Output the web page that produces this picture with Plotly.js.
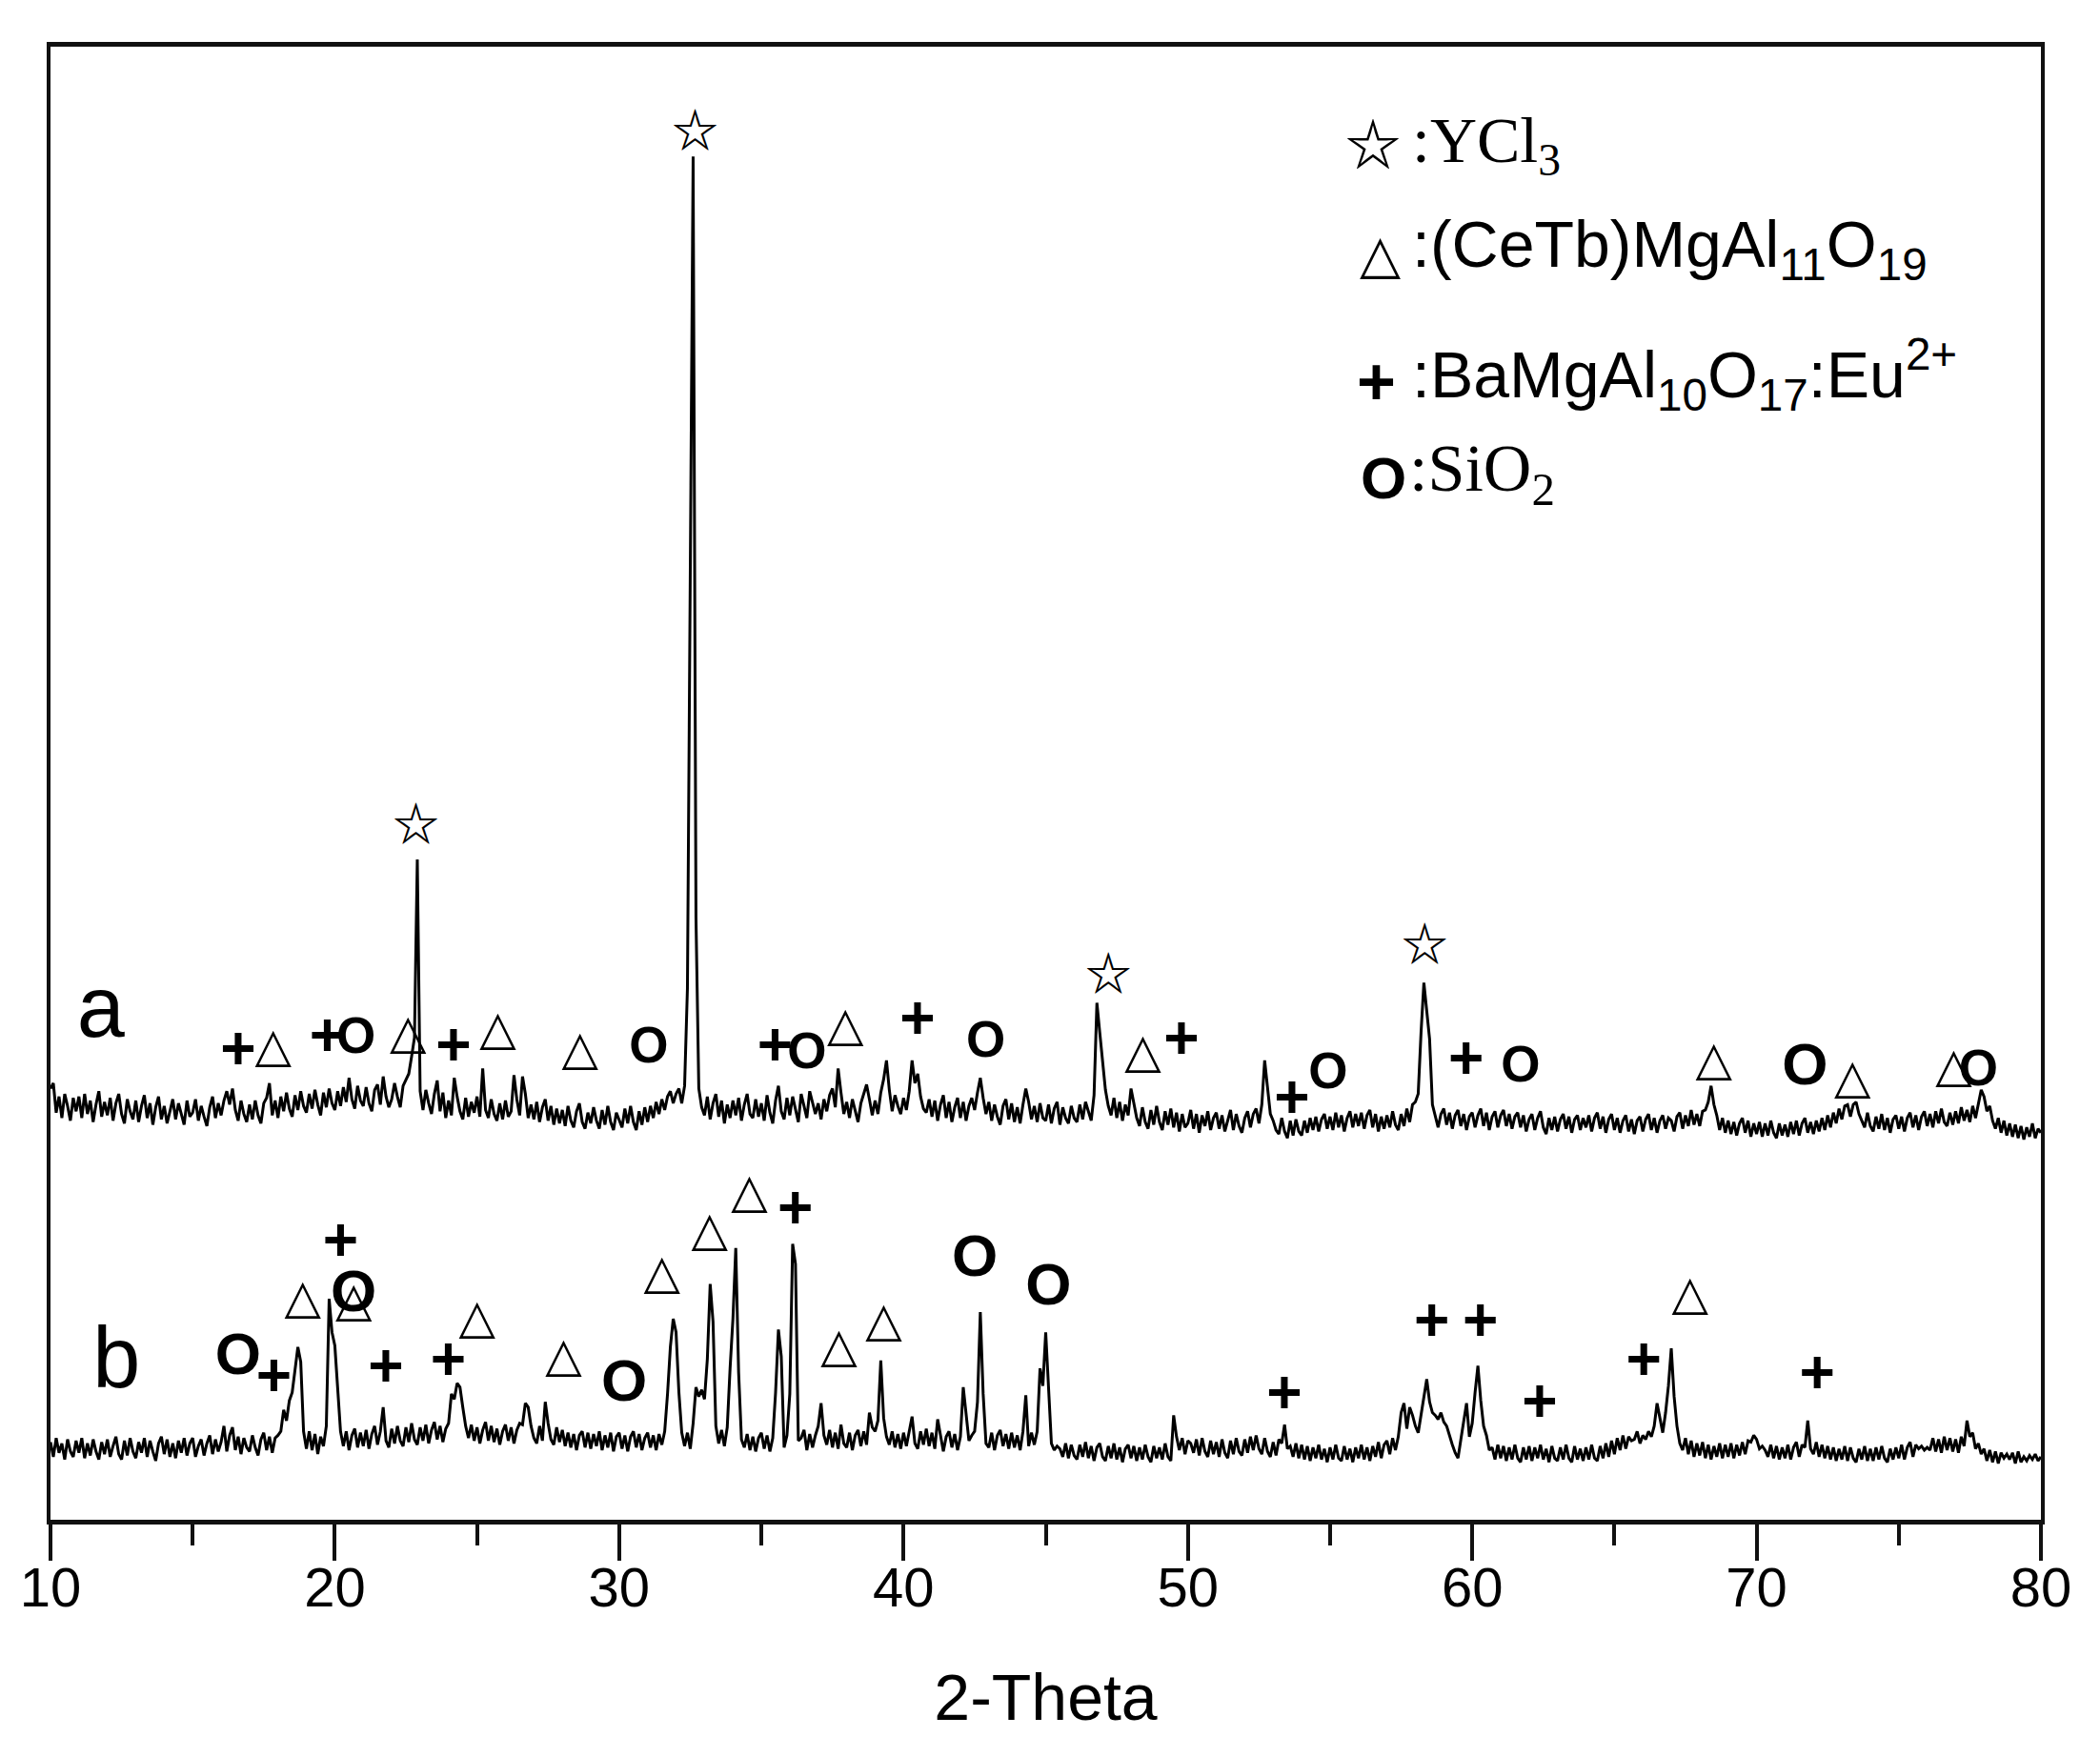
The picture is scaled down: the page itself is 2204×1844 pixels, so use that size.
<!DOCTYPE html>
<html>
<head>
<meta charset="utf-8">
<script src="https://cdn.plot.ly/plotly-3.0.1.min.js"></script>
<style>html,body{margin:0;padding:0;background:#fff;}#chart{width:2204px;height:1844px;}</style>
</head>
<body>
<div id="chart"></div>
<script>
// 2-Theta grid of the two patterns: start and step (degrees)
const thetaStart = 10;
const thetaStep = 0.1;

// Pattern a intensities (a.u.), one row per degree, 10.0 ... 80.0
const intensityA = [
322,326,304,316,300,318,309,298,315,305,
316,300,318,303,313,297,310,320,301,312,
302,315,298,311,318,303,296,314,305,299,
313,297,309,317,300,311,295,308,316,299,
309,296,305,314,299,311,303,295,313,301,
304,314,298,309,301,294,308,316,300,311,
302,313,320,310,322,306,298,313,303,297,
310,299,313,302,296,311,315,326,302,313,
300,316,305,319,307,301,317,306,320,309,
304,318,307,321,310,302,319,308,322,311,
306,320,309,323,312,330,314,307,324,313,
309,323,311,305,321,325,310,331,316,308,
314,326,316,308,324,328,333,346,360,493,
320,306,321,311,303,318,328,305,319,300,
313,302,330,316,305,299,315,301,312,304,
316,301,337,306,300,314,303,298,311,299,
313,301,305,332,314,302,331,318,300,310,
299,312,297,308,314,298,309,295,307,296,
306,294,309,298,293,305,311,297,292,304,
296,308,298,292,306,295,309,297,291,304,
299,293,307,296,309,297,291,305,295,308,
297,309,300,312,303,314,306,316,320,311,
318,322,311,324,397,700,1018,450,322,308,
302,316,299,311,318,301,313,296,310,300,
313,302,315,298,310,318,303,300,314,301,
311,298,317,304,296,313,324,305,299,315,
302,316,306,297,318,309,300,320,312,303,
311,299,314,305,317,322,308,337,319,303,
312,300,314,305,297,311,319,325,314,302,
313,303,319,329,343,321,305,317,309,303,
315,306,320,343,326,333,316,307,304,314,
301,313,298,310,317,300,312,297,308,315,
300,312,298,309,315,306,319,330,315,303,
312,298,310,301,295,309,314,299,311,297,
308,296,310,322,312,299,309,297,311,300,
298,310,296,307,312,295,308,300,296,309,
300,297,310,299,312,304,298,317,386,364,
340,321,309,302,315,300,312,298,310,302,
322,312,300,294,308,297,292,306,295,309,
297,291,305,295,307,293,304,290,303,293,
296,306,292,303,289,302,294,305,291,300,
304,292,302,290,299,306,291,303,294,289,
300,305,293,303,307,296,310,343,323,303,
298,291,288,300,290,285,298,287,299,290,
287,298,289,300,291,301,290,299,303,292,
301,291,304,293,302,290,300,305,293,303,
294,304,292,302,306,293,303,290,301,292,
302,293,305,295,291,303,294,307,297,310,
312,318,364,401,380,359,310,301,293,303,
307,295,304,292,302,306,294,303,291,301,
304,293,302,307,294,304,291,301,305,293,
302,306,294,303,292,301,304,293,302,290,
299,303,291,300,305,293,288,300,291,301,
290,299,303,292,301,289,299,302,291,300,
293,302,290,300,304,292,301,289,299,303,
291,300,289,298,302,290,299,288,298,301,
290,299,303,291,300,289,298,302,292,300,
298,290,301,304,292,302,294,306,295,303,
294,305,306,312,324,310,302,291,300,289,
298,288,297,287,296,300,289,298,286,296,
288,297,286,296,287,298,289,285,296,287,
295,286,297,288,298,287,296,300,289,297,
288,298,290,300,291,302,293,304,296,307,
299,309,310,301,310,312,303,298,293,304,
294,290,301,292,303,291,300,289,299,302,
292,301,290,300,304,293,302,291,301,305,
294,303,293,305,296,307,297,294,304,295,
305,296,308,298,306,297,309,300,311,321,
316,305,309,298,292,300,289,298,287,296,
286,295,285,294,284,293,286,296,285,292,
289
];

// Pattern b intensities (a.u.), one row per degree, 10.0 ... 80.0
const intensityB = [
58,47,61,50,57,45,60,51,47,59,
50,61,46,57,48,60,51,45,58,49,
60,47,55,62,49,45,59,48,61,51,
46,58,50,61,47,59,51,44,57,62,
49,60,47,57,46,59,50,61,48,57,
61,47,55,60,48,57,63,49,60,51,
58,70,51,63,69,52,62,49,61,54,
51,63,54,48,60,65,52,62,50,61,
63,66,82,74,89,95,112,129,118,66,
53,66,52,64,49,62,55,70,165,140,
130,94,66,55,66,52,63,68,54,65,
55,67,53,64,70,56,66,84,59,54,
68,57,70,59,55,69,58,72,60,56,
69,59,71,57,67,73,60,70,58,68,
72,94,90,102,99,84,70,61,71,59,
69,57,67,73,59,70,58,68,56,66,
71,59,69,57,67,72,71,87,84,70,
61,57,70,59,88,72,60,56,69,58,
67,55,65,54,64,52,63,66,54,65,
53,64,55,66,52,63,54,65,51,62,
65,53,63,51,62,66,54,64,52,61,
65,54,63,52,64,56,66,94,129,150,
140,95,65,55,65,53,72,99,92,97,
90,120,176,148,70,57,67,55,69,113,
150,203,110,60,54,64,52,62,51,61,
65,53,63,51,61,95,142,122,54,63,
94,206,191,59,61,67,52,64,54,63,
70,87,63,56,67,54,65,53,71,57,
54,65,52,63,67,55,66,56,80,69,
66,74,119,76,62,56,66,54,64,53,
65,55,67,77,57,53,66,56,68,55,
65,53,75,63,51,62,66,54,64,52,
62,99,80,59,63,66,88,155,94,57,
54,65,52,63,67,55,64,53,65,54,
63,52,66,93,55,65,56,66,113,100,
140,99,57,52,55,53,47,57,46,56,
48,45,56,47,58,46,55,44,54,57,
47,44,55,46,57,45,54,43,53,56,
46,55,44,54,45,56,47,43,55,46,
54,45,57,47,44,78,62,52,61,49,
59,57,50,60,48,61,51,47,59,49,
58,47,60,50,46,59,49,61,51,48,
60,50,62,52,63,53,49,61,51,47,
58,48,60,57,71,53,55,47,57,46,
56,45,55,44,54,46,56,45,53,43,
54,45,56,46,44,55,45,53,43,54,
46,56,45,54,44,55,47,58,46,56,
59,49,61,52,62,80,87,68,84,78,
70,65,78,90,105,88,80,78,75,80,
73,70,62,56,50,46,60,75,87,62,
72,95,115,89,70,63,52,54,45,56,
46,55,44,54,45,56,46,43,54,45,
55,44,54,46,56,45,53,43,55,46,
44,54,45,56,46,43,55,45,53,44,
54,45,56,46,44,55,46,57,47,59,
49,61,52,63,53,62,59,60,66,57,
63,60,66,62,70,87,76,65,80,100,
128,92,70,57,52,61,49,59,47,57,
48,58,46,56,45,55,47,57,46,56,
47,57,46,56,48,58,49,59,58,63,
60,53,55,52,47,56,46,55,45,54,
46,56,45,54,58,47,56,54,74,53,
49,58,47,56,46,55,45,54,44,53,
45,55,44,54,46,43,53,45,55,44,
53,44,54,45,55,46,43,53,45,54,
46,56,45,54,58,47,56,53,55,52,
54,52,61,51,60,50,62,52,61,51,
60,50,62,55,74,62,65,53,57,49,
53,44,52,43,51,42,50,46,49,45,
50,42,51,43,47,44,48,45,49,44,
47
];

// Phase markers (position in 2-Theta, height in a.u.)
const starTheta = [22.85, 32.67, 47.2, 58.33];
const starInt   = [516, 1034, 404, 426];

const triTheta = [17.83, 22.57, 25.73, 28.62, 37.95, 48.42, 68.5, 73.37, 76.93,
                  18.87, 20.66, 25.0, 28.04, 31.5, 33.18, 34.58, 37.73, 39.3, 67.66];
const triInt   = [351, 361, 364, 349, 367, 347, 341, 328, 336,
                  163, 161, 148, 120, 182, 214, 242, 127, 146, 166];

const plusTheta = [16.6, 19.73, 24.17, 35.48, 40.49, 49.77, 53.66, 59.78,
                   17.86, 20.2, 21.79, 23.99, 36.19, 53.39, 58.58, 60.29, 62.37, 66.03, 72.13];
const plusInt   = [348, 358, 351, 351, 371, 356, 312, 341,
                   104, 205, 111, 116, 229, 91, 145, 145, 85, 116, 106];

const smallOTheta = [20.74, 31.04, 36.6, 42.89, 54.93, 61.7, 77.8];
const smallOInt   = [358, 351, 347, 355, 332, 337, 334];

const bigOTheta = [71.7, 16.6, 20.66, 30.18, 42.51, 45.1];
const bigOInt   = [336, 120, 167, 100, 193, 172];

const sampleNames = ['a', 'b'];
const sampleTheta = [11.77, 12.32];
const sampleInt   = [377, 115];

const xTicks = [10, 20, 30, 40, 50, 60, 70, 80];

const SANS = 'Liberation Sans, Arial, sans-serif';
const SERIF = 'Liberation Serif, Times New Roman, serif';
const SYM = 'DejaVu Sans, sans-serif';
const STAR = 'Noto Sans CJK SC, DejaVu Sans, sans-serif';

function textTrace(xs, ys, str, family, size, weight) {
  return {
    type: 'scatter', mode: 'text', x: xs, y: ys,
    text: xs.map(() => str), textposition: 'middle center',
    textfont: {family: family, size: size, color: '#000', weight: weight || 'normal'},
    hoverinfo: 'skip', showlegend: false, cliponaxis: false
  };
}

const traces = [
  {type: 'scatter', mode: 'lines', x0: thetaStart, dx: thetaStep, y: intensityA,
   line: {color: '#000', width: 3}, showlegend: false, name: 'a'},
  {type: 'scatter', mode: 'lines', x0: thetaStart, dx: thetaStep, y: intensityB,
   line: {color: '#000', width: 3}, showlegend: false, name: 'b'},
  textTrace(starTheta, starInt, '\u2606', STAR, 48, 'bold'),
  textTrace(triTheta, triInt, '\u25B3', SYM, 50),
  textTrace(plusTheta, plusInt, '+', SANS, 64, 'bold'),
  textTrace(smallOTheta, smallOInt, 'O', SANS, 53, 'bold'),
  textTrace(bigOTheta, bigOInt, 'O', SANS, 62, 'bold'),
  {type: 'scatter', mode: 'text', x: sampleTheta, y: sampleInt, text: sampleNames,
   textposition: 'middle center', textfont: {family: SANS, size: 90, color: '#000'},
   hoverinfo: 'skip', showlegend: false}
];

const legendRows = [
  {sym: '\u2606', symFont: STAR, symSize: 58, symW: 'bold', sx: 0.6645, sy: 0.936,
   text: ':YCl<sub>3</sub>', font: SERIF, size: 68, tx: 0.6831, ty: 0.934},
  {sym: '\u25B3', symFont: SYM, symSize: 56, symW: 'normal', sx: 0.6678, sy: 0.859,
   text: ':(CeTb)MgAl<sub>11</sub>O<sub>19</sub>', font: SANS, size: 68, tx: 0.6831, ty: 0.863},
  {sym: '+', symFont: SANS, symSize: 70, symW: 'bold', sx: 0.6663, sy: 0.772,
   text: ':BaMgAl<sub>10</sub>O<sub>17</sub>:Eu<sup>2+</sup>', font: SANS, size: 68, tx: 0.6831, ty: 0.7775},
  {sym: 'O', symFont: SANS, symSize: 62, symW: 'bold', sx: 0.6697, sy: 0.7076,
   text: ':SiO<sub>2</sub>', font: SERIF, size: 70, tx: 0.6817, ty: 0.710}
];

const annotations = [];
legendRows.forEach(r => {
  annotations.push({xref: 'paper', yref: 'paper', x: r.sx, y: r.sy, xanchor: 'center', yanchor: 'middle',
    text: r.sym, showarrow: false, font: {family: r.symFont, size: r.symSize, color: '#000', weight: r.symW}});
  annotations.push({xref: 'paper', yref: 'paper', x: r.tx, y: r.ty, xanchor: 'left', yanchor: 'middle',
    text: r.text, showarrow: false, font: {family: r.font, size: r.size, color: '#000'}});
});

const layout = {
  width: 2204, height: 1844,
  margin: {l: 53, r: 62, t: 49, b: 249, pad: 0},
  paper_bgcolor: '#fff', plot_bgcolor: '#fff',
  showlegend: false,
  xaxis: {
    range: [10, 80], tickmode: 'array', tickvals: xTicks, ticktext: xTicks.map(String),
    ticks: 'outside', ticklen: 38, tickwidth: 4, tickcolor: '#111',
    ticklabelstandoff: -22,
    minor: {tickmode: 'linear', tick0: 15, dtick: 10, ticks: 'outside', ticklen: 22, tickwidth: 4, tickcolor: '#111', showgrid: false},
    showline: true, linewidth: 5, linecolor: '#111', mirror: true,
    showgrid: false, zeroline: false,
    tickfont: {family: SANS, size: 58, color: '#000'},
    title: {text: '2-Theta', font: {family: SANS, size: 68, color: '#000'}, standoff: 62}
  },
  yaxis: {
    range: [0, 1100], showticklabels: false, ticks: '', showgrid: false, zeroline: false,
    showline: true, linewidth: 4, linecolor: '#111', mirror: true
  },
  annotations: annotations
};

Plotly.newPlot('chart', traces, layout, {displayModeBar: false, staticPlot: true});
</script>
</body>
</html>
